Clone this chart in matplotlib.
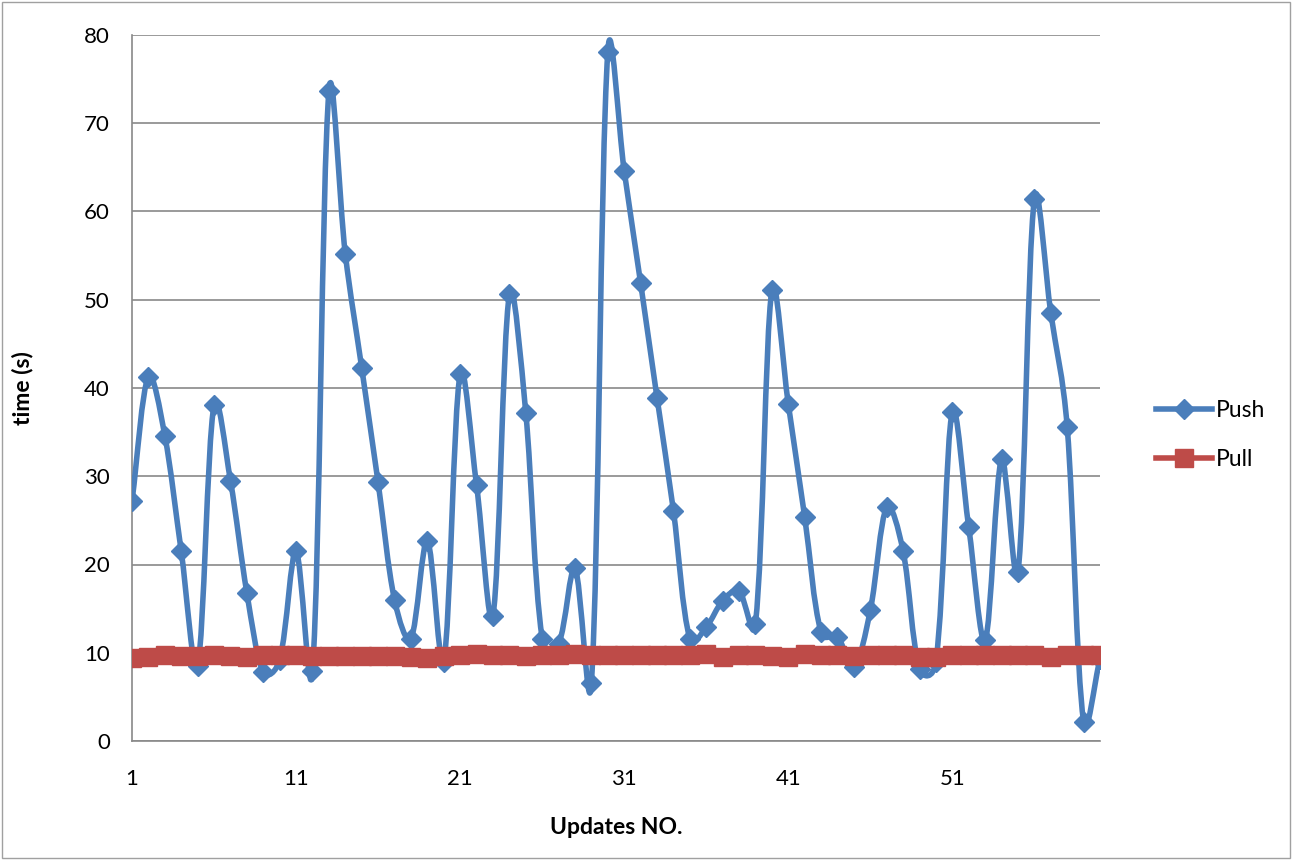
import matplotlib
matplotlib.use("Agg")
import numpy as np
import matplotlib.pyplot as plt
from matplotlib.path import Path
from matplotlib.patches import PathPatch, Rectangle
from matplotlib.lines import Line2D

plt.rcParams['font.family'] = ['Lato', 'DejaVu Sans']

# data
updates = list(range(1, 61))
push = [27.2, 41.3, 34.6, 21.5, 8.5, 38.1, 29.5, 16.8, 7.8, 9.2,
        21.5, 7.9, 73.6, 55.2, 42.3, 29.3, 16.0, 11.6, 22.7, 9.0,
        41.6, 29.0, 14.2, 50.6, 37.2, 11.6, 11.0, 19.6, 6.6, 78.1,
        64.6, 51.9, 38.9, 26.1, 11.6, 12.9, 15.9, 17.0, 13.3, 51.1,
        38.2, 25.4, 12.3, 11.8, 8.4, 14.8, 26.5, 21.5, 8.2, 9.0,
        37.3, 24.2, 11.4, 31.9, 19.1, 61.4, 48.5, 35.6, 2.2, 9.3]
pull = [9.4, 9.5, 9.7, 9.6, 9.65, 9.8, 9.6, 9.5, 9.7, 9.7,
        9.7, 9.6, 9.6, 9.6, 9.6, 9.6, 9.6, 9.5, 9.45, 9.6,
        9.75, 9.9, 9.8, 9.75, 9.6, 9.8, 9.8, 9.9, 9.75, 9.75,
        9.7, 9.75, 9.7, 9.7, 9.75, 9.9, 9.55, 9.8, 9.7, 9.65,
        9.55, 9.9, 9.7, 9.7, 9.65, 9.7, 9.8, 9.7, 9.5, 9.55,
        9.75, 9.75, 9.7, 9.7, 9.7, 9.7, 9.55, 9.8, 9.8, 9.8]

push_color = "#4A7EBB"
pull_color = "#BE4B48"
grid_color = "#898989"


def smooth_path(ax, xs, ys):
    # Excel-like smoothed line: bezier segments, tangent lengths weighted
    # by neighbouring segment lengths on screen (sqrt weighting)
    pts = ax.transData.transform(np.column_stack([xs, ys]))
    n = len(pts)
    c_out = np.zeros_like(pts)
    c_in = np.zeros_like(pts)
    for i in range(n):
        prev = pts[i - 1] if i > 0 else pts[i]
        nxt = pts[i + 1] if i < n - 1 else pts[i]
        t = nxt - prev
        d1 = np.sqrt(np.hypot(*(pts[i] - prev)))
        d2 = np.sqrt(np.hypot(*(nxt - pts[i])))
        tot = d1 + d2 if d1 + d2 > 0 else 1.0
        c_out[i] = pts[i] + t * d2 / tot / 3.0
        c_in[i] = pts[i] - t * d1 / tot / 3.0
    verts = [pts[0]]
    codes = [Path.MOVETO]
    for i in range(n - 1):
        verts += [c_out[i], c_in[i + 1], pts[i + 1]]
        codes += [Path.CURVE4] * 3
    verts = ax.transData.inverted().transform(np.array(verts))
    return Path(verts, codes)


fig = plt.figure(figsize=(12.92, 8.6), dpi=100)
ax = fig.add_axes([132 / 1292, 1 - 741 / 860, 968 / 1292, 706 / 860])
ax.set_xlim(1, 60)
ax.set_ylim(0, 80)

ax.add_patch(PathPatch(smooth_path(ax, updates, push), fill=False, edgecolor=push_color,
                       lw=4, capstyle='round', joinstyle='round', zorder=3))
ax.plot(updates, push, linestyle='none', marker='D', ms=10.5, color=push_color, zorder=4)

ax.add_patch(PathPatch(smooth_path(ax, updates, pull), fill=False, edgecolor=pull_color,
                       lw=4, capstyle='round', joinstyle='round', zorder=5))
ax.plot(updates, pull, linestyle='none', marker='s', ms=12.5, color=pull_color, zorder=6)

ax.set_yticks(range(0, 81, 10))
ax.set_xticks(range(1, 60, 10))
ax.tick_params(axis='both', length=0, labelsize=16)
ax.tick_params(axis='y', pad=16)
ax.tick_params(axis='x', pad=20)
ax.yaxis.grid(True, color=grid_color, lw=1.2)
ax.set_axisbelow(True)
for s in ['top', 'right']:
    ax.spines[s].set_visible(False)
for s in ['left', 'bottom']:
    ax.spines[s].set_color(grid_color)
    ax.spines[s].set_linewidth(1.2)

ax.set_ylabel("time (s)", fontsize=16.5, fontweight='bold')
ax.yaxis.set_label_coords(-(132 - 33) / 968, 0.5)
ax.set_xlabel("Updates NO.", fontsize=16.5, fontweight='bold')
ax.xaxis.set_label_coords(0.5, -(817 - 741) / 706)

handles = [
    Line2D([], [], color=push_color, lw=4, marker='D', ms=10.5),
    Line2D([], [], color=pull_color, lw=4, marker='s', ms=12.5),
]
fig.legend(handles, ["Push", "Pull"], loc='center left',
           bbox_to_anchor=(1135 / 1292, 1 - 435 / 860), frameon=False,
           fontsize=16.5, handlelength=2.45, labelspacing=1.2, handletextpad=0.2)

# chart area border
fig.patches.append(Rectangle((0.0015, 0.002), 0.997, 0.996, transform=fig.transFigure,
                             fill=False, edgecolor="#A0A0A0", lw=1))

fig.savefig("out.png", dpi=100)
